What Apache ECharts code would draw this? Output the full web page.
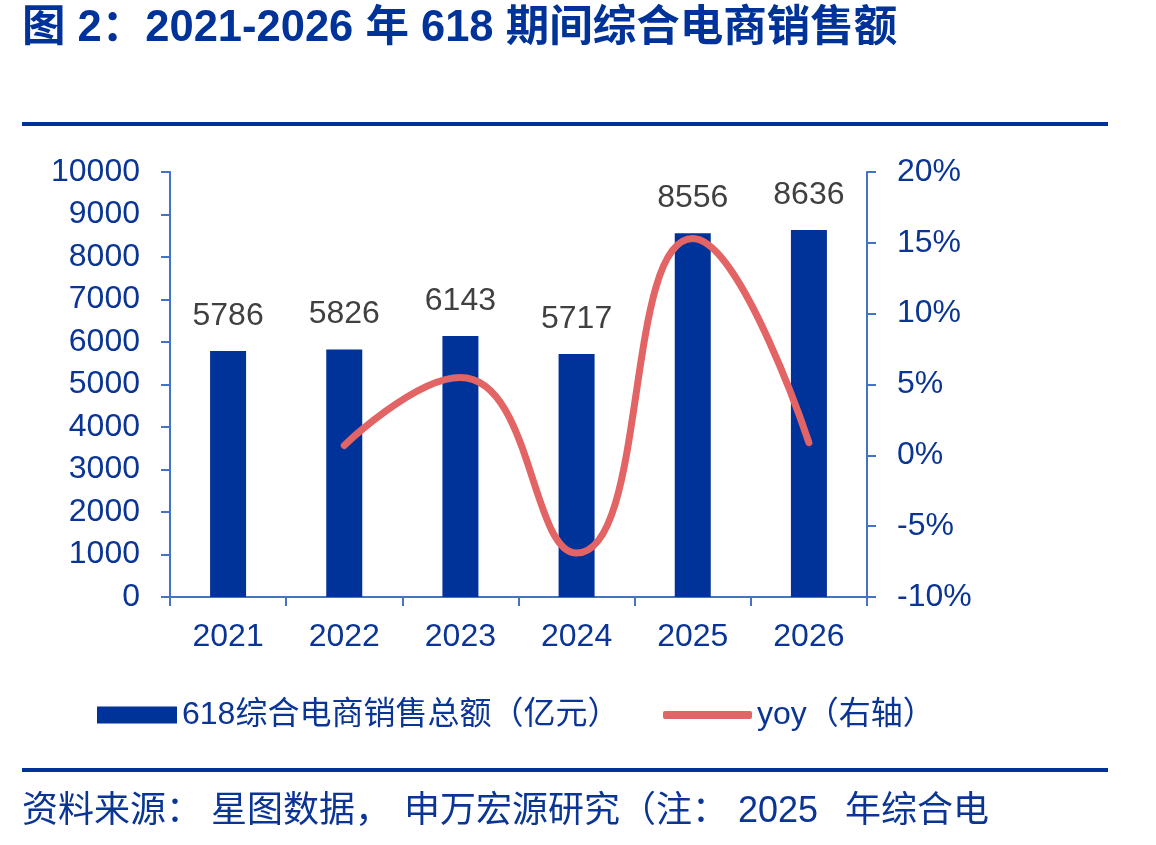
<!DOCTYPE html>
<html>
<head>
<meta charset="utf-8">
<script src="https://cdn.jsdelivr.net/npm/echarts@6/dist/echarts.min.js"></script>
<style>
html,body{margin:0;padding:0;background:#fff;}
#chart{width:1156px;height:845px;}
</style>
</head>
<body>
<div id="chart"></div>
<script>
var categories = ['2021', '2022', '2023', '2024', '2025', '2026'];
var salesValues = [5786, 5826, 6143, 5717, 8556, 8636];
var yoyValues = [null, 0.7, 5.5, -6.9, 15.3, 0.9];
var leftTicks = { min: 0, max: 10000, interval: 1000 };
var rightTicks = { min: -10, max: 20, interval: 5 };
var titleText = '图 2：2021-2026 年 618 期间综合电商销售额';
var sourceParts = ['资料来源：', '星图数据，', '申万宏源研究（注：', '2025', '年综合电'];
var barName = '618综合电商销售总额（亿元）';
var lineName = 'yoy（右轴）';

var FONT = '"Liberation Sans", Arial, "Noto Sans CJK SC", sans-serif';
var BLUE = '#003399';
var TXT = '#0A3594';
var AXIS = '#4472C4';
var RED = '#E36464';

var sourceX = [22, 211, 404, 738, 845];
var graphics = [
  { type: 'text', left: 22, top: 7, style: { text: titleText, fill: BLUE, font: 'bold 43.5px ' + FONT } },
  { type: 'rect', shape: { x: 22, y: 122, width: 1086, height: 4 }, style: { fill: BLUE } },
  { type: 'rect', shape: { x: 22, y: 768, width: 1086, height: 4 }, style: { fill: BLUE } }
];
sourceParts.forEach(function (t, i) {
  graphics.push({ type: 'text', left: sourceX[i], top: 794, style: { text: t, fill: TXT, font: '36px ' + FONT } });
});

var chart = echarts.init(document.getElementById('chart'));
chart.setOption({
  backgroundColor: '#fff',
  animation: false,
  textStyle: { fontFamily: FONT },
  graphic: graphics,
  legend: [
    { data: [barName], left: 97, top: 699, padding: 0, itemWidth: 80, itemHeight: 17, itemGap: 6, icon: 'rect',
      textStyle: { color: TXT, fontSize: 32, fontFamily: FONT } },
    { data: [{ name: lineName, icon: 'roundRect', itemStyle: { color: RED } }], left: 663, top: 699, padding: 0,
      itemWidth: 89, itemHeight: 8,
      textStyle: { color: TXT, fontSize: 32, fontFamily: FONT } }
  ],
  grid: { left: 170, right: 289, top: 172, bottom: 248 },
  xAxis: {
    type: 'category', data: categories, boundaryGap: true,
    axisLine: { lineStyle: { color: AXIS, width: 2 } },
    axisTick: { show: true, length: 9, lineStyle: { color: AXIS, width: 2 } },
    axisLabel: { color: TXT, fontSize: 32, margin: 24, fontFamily: FONT }
  },
  yAxis: [
    { type: 'value', min: leftTicks.min, max: leftTicks.max, interval: leftTicks.interval,
      splitLine: { show: false },
      axisLine: { show: true, lineStyle: { color: AXIS, width: 2 } },
      axisTick: { show: true, length: 9, lineStyle: { color: AXIS, width: 2 } },
      axisLabel: { color: TXT, fontSize: 32, margin: 30, fontFamily: FONT,
        formatter: function (v) { return String(v); } } },
    { type: 'value', min: rightTicks.min, max: rightTicks.max, interval: rightTicks.interval,
      position: 'right', splitLine: { show: false },
      axisLine: { show: true, lineStyle: { color: AXIS, width: 2 } },
      axisTick: { show: true, length: 9, lineStyle: { color: AXIS, width: 2 } },
      axisLabel: { color: TXT, fontSize: 32, margin: 30, fontFamily: FONT, formatter: '{value}%' } }
  ],
  series: [
    { name: barName, type: 'bar', data: salesValues, barWidth: 36, yAxisIndex: 0,
      itemStyle: { color: BLUE },
      label: { show: true, position: 'top', distance: 19, color: '#404040', fontSize: 32, fontFamily: FONT } },
    { name: lineName, type: 'line', data: yoyValues, yAxisIndex: 1, smooth: 0.5,
      showSymbol: false, symbol: 'none', connectNulls: false,
      lineStyle: { color: RED, width: 7, cap: 'round' }, itemStyle: { color: RED } }
  ]
});
</script>
</body>
</html>
